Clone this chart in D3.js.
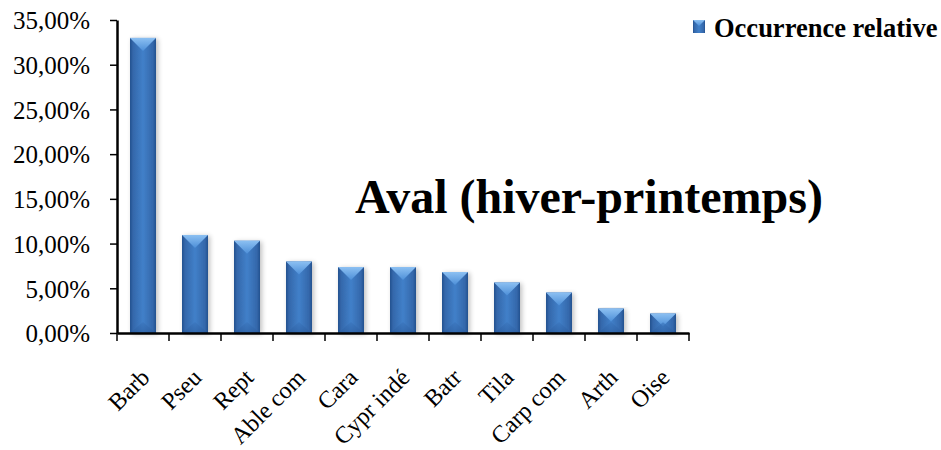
<!DOCTYPE html>
<html><head><meta charset="utf-8">
<script src="https://cdn.jsdelivr.net/npm/d3@7"></script>
<style>body{margin:0;background:#fff}svg{display:block}</style>
</head><body>
<svg id="c" width="941" height="450"></svg>
<script>
const categories = ["Barb","Pseu","Rept","Able com","Cara","Cypr indé","Batr","Tila","Carp com","Arth","Oise"];
const values = [0.330,0.1096,0.1032,0.080,0.0737,0.0737,0.0681,0.0565,0.0453,0.0274,0.0218];
const yTicks = [0,0.05,0.10,0.15,0.20,0.25,0.30,0.35];
const seriesName = "Occurrence relative";
const title = "Aval (hiver-printemps)";

const FONT = "'Liberation Serif','Times New Roman',serif";
const svg = d3.select("#c");
const m = {left:117, right:689, top:20, bottom:333};
const x = d3.scaleBand().domain(categories).range([m.left, m.right]).paddingInner(0.5).paddingOuter(0.25);
const y = d3.scaleLinear().domain([0,0.35]).range([m.bottom, m.top]);
const fmt = v => (v*100).toFixed(2).replace(".", ",") + "%";

const defs = svg.append("defs");
const g1 = defs.append("linearGradient").attr("id","barG").attr("x1","0").attr("x2","1").attr("y1","0").attr("y2","0");
[[0,"#24518f"],[0.12,"#3468ab"],[0.5,"#4180c9"],[0.88,"#3468ab"],[1,"#24518f"]].forEach(s=>g1.append("stop").attr("offset",s[0]).attr("stop-color",s[1]));
const g2 = defs.append("linearGradient").attr("id","topG").attr("x1","0").attr("x2","0").attr("y1","0").attr("y2","1");
[[0,"#8cc0f2"],[1,"#4d8fd8"]].forEach(s=>g2.append("stop").attr("offset",s[0]).attr("stop-color",s[1]));
const g3 = defs.append("linearGradient").attr("id","botG").attr("x1","0").attr("x2","0").attr("y1","0").attr("y2","1");
[[0,"#3a74bb"],[1,"#2b5c9e"]].forEach(s=>g3.append("stop").attr("offset",s[0]).attr("stop-color",s[1]));
const sh = defs.append("filter").attr("id","sh").attr("x","-30%").attr("y","-10%").attr("width","160%").attr("height","130%");
sh.append("feGaussianBlur").attr("in","SourceAlpha").attr("stdDeviation",2.5);
sh.append("feOffset").attr("dx",2).attr("dy",1).attr("result","b");
sh.append("feComponentTransfer").append("feFuncA").attr("type","linear").attr("slope",0.25);
const mg = sh.append("feMerge"); mg.append("feMergeNode"); mg.append("feMergeNode").attr("in","SourceGraphic");

// bars
const bars = svg.append("g").selectAll("g").data(categories).join("g");
bars.each(function(c,i){
  const gg = d3.select(this);
  const bx = x(c), bw = x.bandwidth(), top = y(values[i]), h = y(0)-top;
  const bev = Math.min(bw/2, h/2, 10);
  gg.append("rect").attr("x",bx).attr("y",top).attr("width",bw).attr("height",h).attr("fill","url(#barG)").attr("filter","url(#sh)");
  gg.append("path").attr("d",`M${bx},${top}L${bx+bw},${top}L${bx+bw/2},${top+bev*1.3}Z`).attr("fill","url(#topG)");
  gg.append("path").attr("d",`M${bx},${y(0)}L${bx+bw},${y(0)}L${bx+bw/2},${y(0)-bev*1.1}Z`).attr("fill","url(#botG)").attr("opacity",0.6);
});

// y axis
const ya = svg.append("g").attr("transform",`translate(${m.left},0)`)
  .call(d3.axisLeft(y).tickValues(yTicks).tickFormat(fmt).tickSize(7).tickSizeOuter(0));
ya.select(".domain").attr("stroke","#000").attr("stroke-width",2.5);
ya.selectAll(".tick line").attr("stroke","#000").attr("stroke-width",1.5);
ya.selectAll(".tick text").attr("font-family",FONT).attr("font-size",25).attr("fill","#000").attr("x",-27).attr("dy","0.35em");

// x axis
const xa = svg.append("g").attr("transform",`translate(0,${m.bottom})`)
  .call(d3.axisBottom(x).tickSize(0).tickSizeOuter(0));
xa.select(".domain").attr("stroke","#000").attr("stroke-width",2.5);
const step = x.step();
const edges = d3.range(categories.length+1).map(i=>m.left + i*step);
xa.selectAll(".sep").data(edges).join("line").attr("class","sep")
  .attr("x1",d=>d).attr("x2",d=>d).attr("y1",0).attr("y2",8).attr("stroke","#000").attr("stroke-width",1.5);
xa.selectAll(".tick text").attr("font-family",FONT).attr("font-size",24).attr("fill","#000")
  .attr("text-anchor","end").attr("transform","translate(2,40) rotate(-45)").attr("dy","0.35em").attr("y",0);

// title
svg.append("text").attr("x",589).attr("y",213).attr("text-anchor","middle")
  .attr("font-family",FONT).attr("font-weight","bold").attr("font-size",48).attr("fill","#000").text(title);

// legend
const lg = svg.append("g").attr("transform","translate(693,20)");
lg.append("rect").attr("width",12).attr("height",13).attr("fill","url(#barG)");
lg.append("path").attr("d","M0,0L12,0L6,6Z").attr("fill","url(#topG)");
lg.append("text").attr("x",21).attr("y",17).attr("font-family",FONT).attr("font-weight","bold").attr("font-size",26.5).attr("fill","#000").text(seriesName);
</script>
</body></html>
